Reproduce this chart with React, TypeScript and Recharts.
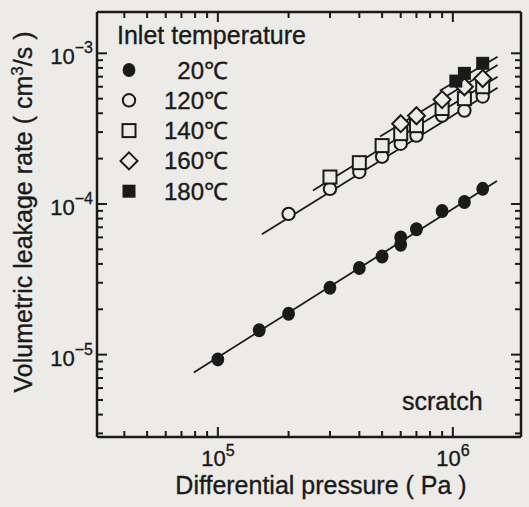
import { Legend, Scatter, ScatterChart, XAxis, YAxis } from 'recharts';

// measured points, pressure in Pa, leakage in cm3/s
const pressure20 = [1e5, 1.5e5, 2e5, 3e5, 4e5, 5e5, 6e5, 6e5, 7e5, 9e5, 1.12e6, 1.34e6];
const leak20 = [9.3e-6, 1.45e-5, 1.87e-5, 2.78e-5, 3.76e-5, 4.48e-5, 5.36e-5, 6.0e-5, 6.8e-5, 8.98e-5, 1.03e-4, 1.26e-4];

const pressure120 = [2e5, 3e5, 4e5, 5e5, 6e5, 7e5, 9e5, 1.12e6, 1.34e6];
const leak120 = [8.6e-5, 1.26e-4, 1.63e-4, 2.06e-4, 2.51e-4, 2.84e-4, 3.86e-4, 4.17e-4, 5.17e-4];

const pressure140 = [3e5, 4e5, 5e5, 6e5, 7e5, 9e5, 1.12e6, 1.34e6];
const leak140 = [1.51e-4, 1.88e-4, 2.44e-4, 2.93e-4, 3.31e-4, 4.3e-4, 5.0e-4, 6.0e-4];

const pressure160 = [6e5, 7e5, 9e5, 1.12e6, 1.34e6];
const leak160 = [3.41e-4, 3.85e-4, 4.93e-4, 6.0e-4, 6.8e-4];

const pressure180 = [1.03e6, 1.12e6, 1.34e6];
const leak180 = [6.54e-4, 7.36e-4, 8.58e-4];

// fitted lines (end points)
const fitP20 = [7.9e4, 1.54e6];
const fitQ20 = [7.6e-6, 1.42e-4];
const fitP120 = [1.54e5, 1.55e6];
const fitQ120 = [6.3e-5, 5.9e-4];
const fitP140 = [2.54e5, 1.55e6];
const fitQ140 = [1.23e-4, 7.0e-4];
const fitP160 = [4.9e5, 1.55e6];
const fitQ160 = [2.8e-4, 8.35e-4];
const fitP180 = [8.8e5, 1.55e6];
const fitQ180 = [5.65e-4, 9.5e-4];

const labels = ['20℃', '120℃', '140℃', '160℃', '180℃'];

const xTicks = [4e4, 5e4, 6e4, 7e4, 8e4, 9e4, 1e5, 2e5, 3e5, 4e5, 5e5, 6e5, 7e5, 8e5, 9e5, 1e6];
const yTicks = [
    3e-6, 4e-6, 5e-6, 6e-6, 7e-6, 8e-6, 9e-6, 1e-5, 2e-5, 3e-5, 4e-5, 5e-5, 6e-5, 7e-5, 8e-5, 9e-5, 1e-4, 2e-4, 3e-4, 4e-4,
    5e-4, 6e-4, 7e-4, 8e-4, 9e-4, 1e-3,
];

const BG = '#ecebe8';
const INK = '#1a1a1a';
const FONT = '"Liberation Sans", Arial, Helvetica, sans-serif';
const TEXT = { fill: INK, fontFamily: FONT, stroke: INK, strokeWidth: 0.35 };

// plot frame in page pixels
const W = 529;
const H = 507;
const LEFT = 97;
const RIGHT = 521;
const TOP = 12;
const BOTTOM = 437;

const toRows = (xs: number[], ys: number[]) => xs.map((p, i) => ({ p, q: ys[i] }));

type Marker = 'dot' | 'circle' | 'square' | 'diamond' | 'block';

const series: { name: string; marker: Marker; points: { p: number; q: number }[]; fit: { p: number; q: number }[] }[] = [
    { name: labels[0], marker: 'dot', points: toRows(pressure20, leak20), fit: toRows(fitP20, fitQ20) },
    { name: labels[1], marker: 'circle', points: toRows(pressure120, leak120), fit: toRows(fitP120, fitQ120) },
    { name: labels[2], marker: 'square', points: toRows(pressure140, leak140), fit: toRows(fitP140, fitQ140) },
    { name: labels[3], marker: 'diamond', points: toRows(pressure160, leak160), fit: toRows(fitP160, fitQ160) },
    { name: labels[4], marker: 'block', points: toRows(pressure180, leak180), fit: toRows(fitP180, fitQ180) },
];

function drawMarker(kind: Marker, cx: number, cy: number) {
    switch (kind) {
        case 'dot':
            return <ellipse cx={cx} cy={cy} rx={6.4} ry={7} fill={INK} />;
        case 'circle':
            return <circle cx={cx} cy={cy} r={6.2} fill={BG} stroke={INK} strokeWidth={2} />;
        case 'square':
            return <rect x={cx - 6.5} y={cy - 6.5} width={13} height={13} fill={BG} stroke={INK} strokeWidth={2} />;
        case 'diamond':
            return (
                <polygon
                    points={`${cx},${cy - 8.5} ${cx + 8.5},${cy} ${cx},${cy + 8.5} ${cx - 8.5},${cy}`}
                    fill={BG}
                    stroke={INK}
                    strokeWidth={2}
                />
            );
        default:
            return <rect x={cx - 6.5} y={cy - 6.5} width={13} height={13} fill={INK} />;
    }
}

const isDecade = (v: number) => Math.abs(Math.log10(v) - Math.round(Math.log10(v))) < 1e-6;
const tickLen = (v: number) => (isDecade(v) ? 10 : 6);

// ticks point into the plot, like the frame of the original figure
function BottomTick({ x, payload }: any) {
    const major = isDecade(payload.value);
    return (
        <g>
            <path d={`M${x},${BOTTOM}V${BOTTOM - tickLen(payload.value)}`} stroke={INK} strokeWidth={2} fill='none' />
            {major && (
                <text x={x} y={BOTTOM + 29} textAnchor='middle' fontSize={22} {...TEXT}>
                    10
                    <tspan dy={-10} fontSize={16}>
                        {Math.round(Math.log10(payload.value))}
                    </tspan>
                </text>
            )}
        </g>
    );
}

function TopTick({ x, payload }: any) {
    return <path d={`M${x},${TOP}V${TOP + tickLen(payload.value)}`} stroke={INK} strokeWidth={2} fill='none' />;
}

function LeftTick({ y, payload }: any) {
    const major = isDecade(payload.value);
    const exp = Math.round(Math.log10(payload.value));
    return (
        <g>
            <path d={`M${LEFT},${y}H${LEFT + tickLen(payload.value)}`} stroke={INK} strokeWidth={2} fill='none' />
            {major && (
                <text x={LEFT - 4} y={y + 11} textAnchor='end' fontSize={22} {...TEXT}>
                    10
                    <tspan dy={-11} fontSize={16}>
                        {`−${Math.abs(exp)}`}
                    </tspan>
                </text>
            )}
        </g>
    );
}

function RightTick({ y, payload }: any) {
    return <path d={`M${RIGHT},${y}H${RIGHT - tickLen(payload.value)}`} stroke={INK} strokeWidth={2} fill='none' />;
}

const renderLegend = () => (
    <svg width={240} height={210} style={{ display: 'block' }}>
        <text x={17} y={44} fontSize={25} {...TEXT}>
            Inlet temperature
        </text>
        {series.map((s, i) => (
            <g key={s.name}>
                {drawMarker(s.marker, 29, 70 + i * 30.3)}
                <text x={128} y={70 + i * 30.3 + 8.5} textAnchor='end' fontSize={24} {...TEXT}>
                    {s.name}
                </text>
            </g>
        ))}
    </svg>
);

const hidden = () => <g />;

export default function App() {
    return (
        <div style={{ position: 'absolute', left: 0, top: 0, width: W, height: H, background: BG, fontFamily: FONT }}>
            <ScatterChart width={W} height={H} margin={{ top: TOP - 1, right: W - RIGHT - 1, bottom: 0, left: 0 }}>
                <XAxis
                    dataKey='p'
                    type='number'
                    scale='log'
                    domain={[3.06e4, 1.95e6]}
                    allowDataOverflow
                    ticks={xTicks}
                    interval={0}
                    tick={<BottomTick />}
                    tickLine={false}
                    height={H - BOTTOM}
                    axisLine={{ stroke: INK, strokeWidth: 2.5 }}
                    label={{
                        content: () => (
                            <text x={321} y={494} textAnchor='middle' fontSize={25} {...TEXT}>
                                Differential pressure ( Pa )
                            </text>
                        ),
                    }}
                />
                <XAxis
                    xAxisId='top'
                    orientation='top'
                    dataKey='p'
                    type='number'
                    scale='log'
                    domain={[3.06e4, 1.95e6]}
                    allowDataOverflow
                    ticks={xTicks}
                    interval={0}
                    tick={<TopTick />}
                    tickLine={false}
                    height={1}
                    axisLine={{ stroke: INK, strokeWidth: 2.5 }}
                />
                <YAxis
                    dataKey='q'
                    type='number'
                    scale='log'
                    domain={[2.84e-6, 1.88e-3]}
                    allowDataOverflow
                    ticks={yTicks}
                    interval={0}
                    tick={<LeftTick />}
                    tickLine={false}
                    width={LEFT}
                    axisLine={{ stroke: INK, strokeWidth: 2.5 }}
                    label={{
                        content: () => (
                            <text x={32} y={212} transform='rotate(-90 32 212)' textAnchor='middle' fontSize={25} {...TEXT}>
                                Volumetric leakage rate ( cm
                                <tspan dy={-9} fontSize={17}>
                                    3
                                </tspan>
                                <tspan dy={9}>/s )</tspan>
                            </text>
                        ),
                    }}
                />
                <YAxis
                    yAxisId='right'
                    orientation='right'
                    dataKey='q'
                    type='number'
                    scale='log'
                    domain={[2.84e-6, 1.88e-3]}
                    allowDataOverflow
                    ticks={yTicks}
                    interval={0}
                    tick={<RightTick />}
                    tickLine={false}
                    width={1}
                    axisLine={{ stroke: INK, strokeWidth: 2.5 }}
                />
                <Legend
                    layout='vertical'
                    align='center'
                    verticalAlign='middle'
                    content={renderLegend}
                    wrapperStyle={{ left: 100, top: 0, width: 240, height: 210 }}
                />
                {series.map((s) => [
                    <Scatter
                        key={`${s.name}-fit`}
                        data={s.fit}
                        xAxisId='top'
                        yAxisId='right'
                        line={{ stroke: INK, strokeWidth: 1.8 }}
                        shape={hidden}
                        legendType='none'
                        isAnimationActive={false}
                    />,
                    <Scatter
                        key={`${s.name}-pts`}
                        name={s.name}
                        data={s.points}
                        shape={(props: any) => drawMarker(s.marker, props.cx, props.cy)}
                        isAnimationActive={false}
                    />,
                ])}
            </ScatterChart>
            <div
                style={{
                    position: 'absolute',
                    left: 402,
                    top: 386,
                    fontSize: 25,
                    color: INK,
                    lineHeight: '30px',
                    WebkitTextStroke: '0.35px #1a1a1a',
                }}
            >
                scratch
            </div>
        </div>
    );
}
